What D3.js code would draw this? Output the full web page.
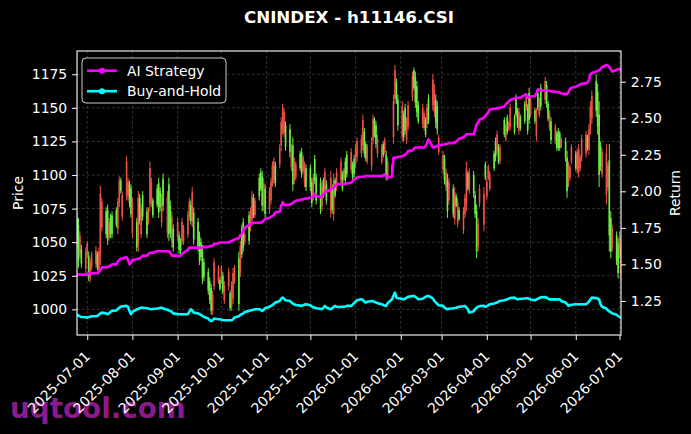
<!DOCTYPE html>
<html><head><meta charset="utf-8">
<script src="https://cdn.jsdelivr.net/npm/d3@7"></script>
<style>body{margin:0;background:#000}svg{display:block}</style>
</head><body>
<svg id="c" width="691" height="434"></svg>
<script>
const chartTitle = "CNINDEX - h11146.CSI";
const startDate = "2025-06-24";
const priceTicks = [1000,1025,1050,1075,1100,1125,1150,1175];
const returnTicks = [1.25,1.50,1.75,2.00,2.25,2.50,2.75];
const dateTicks = ["2025-07-01","2025-08-01","2025-09-01","2025-10-01","2025-11-01","2025-12-01","2026-01-01","2026-02-01","2026-03-01","2026-04-01","2026-05-01","2026-06-01","2026-07-01"];
const seriesNames = ["AI Strategy","Buy-and-Hold"];

const opens = [
1050,1036,1055,1034,1043,1049,1025,1035,1041,1044,
1031,1043,1086,1080,1056,1052,1065,1056,1056,1063,
1080,1096,1088,1085,1110,1095,1079,1071,1079,1046,
1083,1066,1075,1069,1056,1074,1105,1095,1070,1078,
1072,1076,1082,1077,1084,1056,1057,1069,1046,1065,
1044,1043,1065,1061,1070,1080,1066,1087,1052,1046,
1036,1039,1023,1024,1014,1007,999,1011,1035,1031,
1015,1031,1013,1018,1028,1001,1018,1027,1031,1004,
1047,1041,1046,1056,1051,1073,1084,1070,1081,1084,
1090,1077,1094,1071,1088,1095,1107,1110,1094,1120,
1139,1150,1147,1121,1117,1120,1093,1110,1108,1105,
1101,1113,1107,1091,1091,1079,1098,1096,1081,1075,
1092,1085,1102,1081,1098,1074,1096,1085,1102,1110,
1090,1104,1096,1101,1117,1098,1101,1120,1125,1127,
1141,1116,1112,1121,1124,1142,1130,1123,1127,1121,
1115,1126,1099,1110,1099,1155,1178,1156,1137,1151,
1128,1133,1140,1152,1174,1165,1154,1147,1140,1150,
1146,1130,1150,1141,1171,1164,1139,1134,1128,1115,
1096,1102,1073,1095,1071,1087,1077,1080,1067,1073,
1083,1105,1090,1102,1086,1071,1043,1064,1090,1086,
1098,1095,1106,1101,1105,1113,1130,1110,1121,1130,
1136,1132,1139,1150,1132,1145,1137,1147,1135,1140,
1158,1133,1141,1156,1140,1146,1150,1156,1151,1170,
1153,1142,1146,1126,1136,1120,1120,1120,1127,1113,
1088,1107,1106,1121,1105,1117,1119,1113,1127,1130,
1120,1134,1151,1159,1148,1136,1100,1106,1117,1116,
1107,1055,1043,1060,1036,1027,1055,1048];
const highs = [
1071,1068,1058,1048,1046,1051,1043,1038,1043,1047,
1043,1046,1092,1083,1076,1078,1068,1071,1073,1076,
1083,1099,1098,1088,1114,1098,1096,1093,1083,1068,
1088,1086,1078,1088,1076,1076,1110,1098,1083,1093,
1098,1091,1086,1101,1088,1098,1081,1073,1063,1068,
1058,1053,1068,1063,1073,1083,1081,1091,1076,1068,
1058,1053,1048,1038,1031,1024,1019,1014,1038,1033,
1024,1033,1028,1021,1031,1014,1021,1031,1033,1043,
1051,1063,1068,1058,1073,1076,1088,1086,1083,1101,
1105,1103,1098,1093,1091,1098,1110,1113,1110,1123,
1143,1153,1150,1140,1138,1123,1128,1113,1110,1118,
1120,1115,1110,1108,1108,1098,1101,1115,1101,1098,
1096,1098,1105,1096,1103,1093,1101,1098,1105,1113,
1103,1105,1113,1118,1120,1110,1115,1123,1128,1130,
1145,1135,1125,1123,1128,1145,1143,1140,1130,1123,
1125,1128,1118,1113,1108,1160,1182,1172,1160,1155,
1148,1153,1143,1155,1177,1180,1177,1170,1155,1153,
1148,1143,1153,1160,1175,1168,1160,1155,1130,1118,
1115,1105,1101,1098,1093,1091,1086,1083,1076,1076,
1086,1110,1103,1105,1103,1088,1078,1068,1093,1091,
1110,1098,1108,1103,1118,1128,1133,1123,1123,1143,
1138,1145,1140,1153,1145,1160,1150,1150,1145,1155,
1160,1153,1165,1158,1150,1150,1163,1158,1168,1173,
1170,1155,1148,1143,1138,1133,1135,1133,1128,1128,
1118,1110,1108,1123,1118,1120,1123,1115,1130,1133,
1130,1138,1155,1163,1175,1168,1155,1125,1120,1123,
1110,1123,1073,1063,1058,1053,1058,1053];
const lows = [
1046,1031,1038,1031,1027,1038,1021,1020,1029,1031,
1029,1026,1033,1058,1053,1048,1051,1053,1053,1061,
1056,1076,1086,1066,1081,1081,1076,1068,1053,1043,
1043,1063,1053,1066,1053,1063,1073,1076,1068,1076,
1068,1073,1061,1073,1053,1051,1053,1046,1043,1051,
1041,1041,1048,1048,1053,1066,1063,1061,1048,1043,
1033,1036,1019,1021,1011,1004,996,996,1014,1019,
1014,1019,1011,1004,1014,999,999,1004,1019,999,
1024,1038,1043,1048,1048,1058,1063,1068,1068,1081,
1088,1073,1073,1068,1071,1078,1091,1093,1091,1105,
1118,1130,1128,1118,1113,1103,1088,1093,1096,1103,
1098,1101,1091,1088,1088,1076,1081,1093,1078,1071,
1073,1083,1086,1078,1068,1071,1066,1083,1088,1093,
1088,1096,1093,1098,1101,1096,1098,1105,1110,1113,
1118,1113,1110,1108,1103,1123,1128,1120,1113,1108,
1113,1115,1096,1096,1098,1123,1153,1153,1133,1125,
1125,1130,1123,1133,1155,1163,1150,1143,1138,1135,
1133,1128,1135,1138,1148,1143,1135,1130,1115,1101,
1093,1088,1068,1078,1068,1063,1076,1061,1066,1056,
1068,1073,1088,1086,1083,1068,1038,1043,1076,1058,
1096,1081,1096,1088,1103,1110,1115,1108,1108,1128,
1125,1130,1133,1133,1130,1143,1135,1130,1133,1138,
1148,1130,1138,1143,1138,1125,1148,1143,1148,1153,
1150,1140,1133,1123,1123,1118,1118,1118,1120,1110,
1083,1091,1096,1108,1103,1101,1098,1103,1110,1113,
1118,1115,1130,1138,1143,1130,1091,1103,1098,1078,
1088,1043,1038,1043,1033,1023,1038,1021];
const closes = [
1067,1063,1041,1045,1030,1040,1040,1023,1031,1034,
1041,1029,1040,1061,1073,1074,1054,1068,1070,1074,
1060,1079,1096,1069,1085,1084,1093,1090,1057,1065,
1048,1083,1056,1085,1073,1065,1078,1079,1081,1090,
1094,1088,1065,1097,1057,1093,1077,1050,1060,1054,
1055,1051,1051,1050,1056,1069,1078,1065,1072,1065,
1055,1050,1044,1035,1028,1021,1016,999,1017,1021,
1022,1021,1025,1007,1017,1012,1002,1008,1021,1038,
1028,1060,1065,1050,1070,1061,1067,1083,1070,1098,
1102,1099,1077,1090,1074,1081,1094,1096,1107,1108,
1122,1133,1131,1137,1134,1106,1122,1096,1098,1116,
1117,1103,1094,1105,1105,1095,1084,1112,1098,1094,
1077,1096,1089,1093,1073,1090,1071,1096,1091,1096,
1101,1097,1110,1115,1104,1108,1112,1108,1113,1116,
1122,1132,1123,1110,1107,1126,1141,1137,1116,1110,
1123,1117,1115,1099,1106,1128,1157,1169,1156,1129,
1145,1150,1126,1136,1158,1178,1173,1166,1152,1138,
1135,1141,1138,1157,1152,1147,1156,1151,1117,1104,
1112,1091,1096,1081,1090,1067,1084,1064,1074,1059,
1071,1078,1101,1089,1100,1085,1073,1047,1079,1063,
1108,1084,1098,1090,1116,1125,1118,1121,1110,1141,
1127,1143,1134,1136,1143,1158,1148,1133,1143,1153,
1150,1150,1161,1145,1148,1129,1161,1145,1165,1156,
1167,1153,1135,1140,1125,1131,1132,1131,1121,1125,
1113,1094,1098,1110,1116,1104,1102,1105,1113,1116,
1128,1119,1134,1142,1170,1162,1145,1122,1101,1085,
1091,1111,1068,1046,1055,1049,1041,1026];

const aiStrategy = [
1.43,1.43,1.43,1.43,1.43,1.43,1.44,1.44,1.44,1.44,
1.44,1.45,1.46,1.48,1.48,1.48,1.49,1.49,1.50,1.50,
1.52,1.53,1.54,1.54,1.55,1.53,1.50,1.51,1.53,1.535,
1.54,1.54,1.55,1.56,1.56,1.57,1.58,1.58,1.58,1.59,
1.59,1.59,1.59,1.59,1.59,1.59,1.58,1.56,1.56,1.56,
1.555,1.56,1.57,1.58,1.60,1.615,1.615,1.615,1.615,1.615,
1.615,1.615,1.615,1.62,1.62,1.625,1.625,1.625,1.64,1.645,
1.65,1.65,1.65,1.65,1.65,1.655,1.66,1.665,1.67,1.68,
1.70,1.71,1.73,1.75,1.77,1.775,1.78,1.785,1.785,1.785,
1.785,1.79,1.80,1.81,1.82,1.825,1.83,1.84,1.855,1.86,
1.90,1.925,1.91,1.905,1.91,1.915,1.92,1.93,1.935,1.94,
1.945,1.945,1.95,1.95,1.955,1.957,1.965,1.98,1.97,1.96,
1.97,1.98,1.99,2.00,2.01,2.02,2.025,2.04,2.048,2.05,
2.05,2.05,2.05,2.053,2.06,2.07,2.08,2.085,2.094,2.10,
2.10,2.10,2.105,2.105,2.105,2.105,2.105,2.105,2.105,2.105,
2.11,2.116,2.10,2.094,2.10,2.23,2.23,2.23,2.235,2.24,
2.245,2.25,2.26,2.275,2.28,2.29,2.30,2.30,2.30,2.30,
2.30,2.31,2.33,2.356,2.30,2.30,2.305,2.31,2.315,2.32,
2.322,2.325,2.325,2.33,2.33,2.333,2.34,2.35,2.36,2.37,
2.38,2.39,2.39,2.39,2.39,2.42,2.458,2.47,2.49,2.504,
2.515,2.53,2.54,2.56,2.565,2.565,2.57,2.57,2.572,2.58,
2.595,2.606,2.615,2.625,2.635,2.64,2.64,2.64,2.64,2.66,
2.664,2.64,2.645,2.65,2.652,2.67,2.698,2.695,2.69,2.69,
2.69,2.688,2.686,2.684,2.682,2.68,2.678,2.675,2.67,2.665,
2.664,2.68,2.70,2.709,2.715,2.72,2.725,2.732,2.735,2.74,
2.743,2.76,2.80,2.81,2.82,2.823,2.83,2.835,2.85,2.864,
2.86,2.85,2.835,2.82,2.83,2.835,2.835,2.835];
const buyAndHold = [
1.159,1.15,1.145,1.14,1.138,1.136,1.14,1.142,1.145,1.146,
1.147,1.155,1.165,1.17,1.165,1.159,1.165,1.175,1.182,1.185,
1.195,1.204,1.21,1.214,1.216,1.21,1.18,1.159,1.175,1.193,
1.195,1.20,1.204,1.204,1.20,1.198,1.195,1.193,1.195,1.198,
1.20,1.202,1.204,1.198,1.19,1.185,1.182,1.175,1.165,1.159,
1.159,1.159,1.158,1.159,1.159,1.175,1.193,1.185,1.17,1.165,
1.16,1.155,1.147,1.14,1.13,1.118,1.113,1.118,1.13,1.125,
1.125,1.122,1.12,1.118,1.118,1.118,1.118,1.125,1.136,1.145,
1.155,1.159,1.165,1.175,1.182,1.185,1.188,1.19,1.193,1.193,
1.188,1.182,1.19,1.20,1.21,1.216,1.222,1.23,1.239,1.25,
1.265,1.273,1.265,1.255,1.25,1.24,1.232,1.227,1.222,1.218,
1.216,1.22,1.225,1.227,1.22,1.212,1.206,1.204,1.20,1.196,
1.193,1.205,1.216,1.205,1.193,1.20,1.21,1.216,1.21,1.208,
1.21,1.21,1.212,1.216,1.216,1.225,1.235,1.245,1.255,1.261,
1.258,1.245,1.239,1.245,1.25,1.248,1.242,1.239,1.235,1.228,
1.222,1.218,1.216,1.235,1.261,1.285,1.307,1.273,1.268,1.264,
1.261,1.265,1.272,1.278,1.284,1.284,1.278,1.27,1.261,1.265,
1.272,1.278,1.283,1.284,1.268,1.25,1.24,1.23,1.22,1.216,
1.205,1.198,1.193,1.196,1.20,1.202,1.204,1.207,1.21,1.214,
1.216,1.205,1.193,1.17,1.18,1.195,1.204,1.21,1.215,1.216,
1.21,1.215,1.22,1.227,1.232,1.236,1.239,1.245,1.25,1.255,
1.258,1.262,1.266,1.27,1.273,1.266,1.261,1.263,1.265,1.267,
1.268,1.268,1.264,1.26,1.255,1.26,1.265,1.27,1.275,1.277,
1.272,1.266,1.261,1.261,1.262,1.261,1.26,1.261,1.25,1.239,
1.228,1.216,1.22,1.224,1.227,1.227,1.226,1.227,1.227,1.227,
1.235,1.245,1.26,1.273,1.27,1.265,1.261,1.227,1.21,1.198,
1.186,1.178,1.172,1.165,1.155,1.147,1.14,1.136];

// ---- trading dates (weekdays from startDate) ----
const N = closes.length;
const parse = d3.timeParse("%Y-%m-%d");
const dates = [];
{ let d = parse(startDate); while (dates.length < N) { const w = d.getDay(); if (w !== 0 && w !== 6) dates.push(new Date(d)); d = d3.timeDay.offset(d, 1); } }

const L = 77, R = 621, T = 51, B = 335;
const FONT = "DejaVu Sans, Arial, sans-serif";
const svg = d3.select("#c");
svg.append("rect").attr("width",691).attr("height",434).attr("fill","#000");

const x = d3.scaleTime().domain([dates[0], dates[N-1]]).range([L, R]);
const yP = d3.scaleLinear().domain([980.9, 1192.3]).range([B, T]);
const yR = d3.scaleLinear().domain([1.017, 2.96]).range([B, T]);
const tickDates = dateTicks.map(parse);

// watermark
svg.append("text").attr("x",10).attr("y",418).attr("font-family",FONT).attr("font-weight","bold")
  .attr("font-size","27.8px").attr("fill","#8c1a8c").text("uqtool.com");

// grid
const grid = svg.append("g").attr("stroke","#5a5a5a").attr("stroke-width",0.6).attr("stroke-dasharray","2.6,2.4");
grid.selectAll("line.h").data(priceTicks).join("line").attr("class","h")
  .attr("x1",L).attr("x2",R).attr("y1",d=>yP(d)).attr("y2",d=>yP(d));
grid.selectAll("line.v").data(tickDates).join("line").attr("class","v")
  .attr("y1",T).attr("y2",B).attr("x1",d=>x(d)).attr("x2",d=>x(d));

// clip
svg.append("clipPath").attr("id","clip").append("rect").attr("x",L).attr("y",T).attr("width",R-L).attr("height",B-T);
const plot = svg.append("g").attr("clip-path","url(#clip)");

const UP = "#6cee45", DOWN = "#ec5246";
const idx = d3.range(N);
const cg = plot.append("g");
cg.selectAll("line.w").data(idx).join("line").attr("class","w")
  .attr("x1",i=>x(dates[i])).attr("x2",i=>x(dates[i]))
  .attr("y1",i=>yP(highs[i])).attr("y2",i=>yP(lows[i]))
  .attr("stroke",i=>closes[i]>=opens[i]?UP:DOWN).attr("stroke-width",1);
cg.selectAll("rect.b").data(idx).join("rect").attr("class","b")
  .attr("x",i=>x(dates[i])-0.8).attr("width",1.6)
  .attr("y",i=>yP(Math.max(opens[i],closes[i])))
  .attr("height",i=>Math.max(0.8, Math.abs(yP(opens[i])-yP(closes[i]))))
  .attr("fill",i=>closes[i]>=opens[i]?UP:DOWN);

const line = d3.line().x(i=>x(dates[i]));
plot.append("path").attr("d", line.y(i=>yR(buyAndHold[i]))(idx))
  .attr("fill","none").attr("stroke","#00ffff").attr("stroke-width",2.6).attr("stroke-linejoin","round");
plot.append("path").attr("d", line.y(i=>yR(aiStrategy[i]))(idx))
  .attr("fill","none").attr("stroke","#ff00ff").attr("stroke-width",2.6).attr("stroke-linejoin","round");

// axes
function styleAxis(g){
  g.select(".domain").remove();
  g.selectAll("line").attr("stroke","#fff").attr("stroke-width",1);
  g.selectAll("text").attr("fill","#fff").attr("font-family",FONT).attr("font-size","13.9px");
}
svg.append("g").attr("transform",`translate(${L},0)`)
  .call(d3.axisLeft(yP).tickValues(priceTicks).tickFormat(d3.format("d")).tickSize(4.9).tickPadding(4.9)).call(styleAxis);
svg.append("g").attr("transform",`translate(${R},0)`)
  .call(d3.axisRight(yR).tickValues(returnTicks).tickFormat(d3.format(".2f")).tickSize(4.9).tickPadding(4.9)).call(styleAxis);
const xg = svg.append("g").attr("transform",`translate(0,${B})`)
  .call(d3.axisBottom(x).tickValues(tickDates).tickFormat(d3.timeFormat("%Y-%m-%d")).tickSize(4.9)).call(styleAxis);
xg.selectAll("text").attr("text-anchor","end").attr("x",0).attr("y",0).attr("dy","0.73em")
  .attr("transform","translate(-4,15) rotate(-45)");

// frame
svg.append("rect").attr("x",L).attr("y",T).attr("width",R-L).attr("height",B-T)
  .attr("fill","none").attr("stroke","#fff").attr("stroke-width",1.1);

// labels
svg.append("text").attr("transform","translate(23,193) rotate(-90)").attr("text-anchor","middle")
  .attr("font-family",FONT).attr("font-size","13.9px").attr("fill","#fff").text("Price");
svg.append("text").attr("transform","translate(680,193) rotate(-90)").attr("text-anchor","middle")
  .attr("font-family",FONT).attr("font-size","13.9px").attr("fill","#fff").text("Return");
svg.append("text").attr("x",(L+R)/2).attr("y",23).attr("text-anchor","middle")
  .attr("font-family",FONT).attr("font-size","16.7px").attr("font-weight","bold").attr("fill","#fff").text(chartTitle);

// legend
const lg = svg.append("g");
lg.append("rect").attr("x",82).attr("y",58).attr("width",144).attr("height",45).attr("rx",4)
  .attr("fill","#000").attr("fill-opacity",0.8).attr("stroke","#cccccc").attr("stroke-width",1);
const legendColors = ["#ff00ff","#00ffff"];
seriesNames.forEach((name,k)=>{
  const cy = 70.7 + k*20.5;
  lg.append("line").attr("x1",87).attr("x2",117).attr("y1",cy).attr("y2",cy).attr("stroke",legendColors[k]).attr("stroke-width",2.6);
  lg.append("circle").attr("cx",102).attr("cy",cy).attr("r",3).attr("fill",legendColors[k]);
  lg.append("text").attr("x",127).attr("y",cy+5).attr("font-family",FONT).attr("font-size","13.9px").attr("fill","#fff").text(name);
});
</script>
</body></html>
